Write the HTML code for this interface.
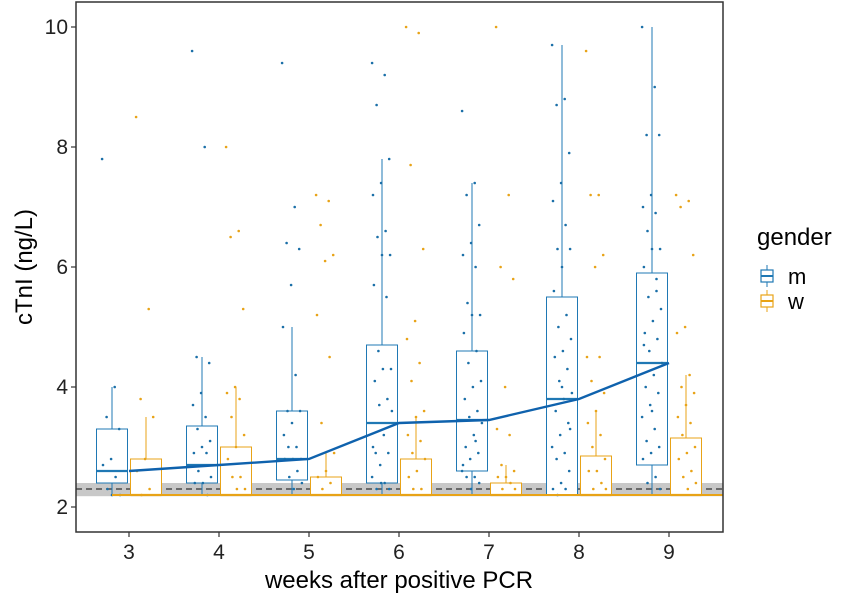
<!DOCTYPE html>
<html><head><meta charset="utf-8"><style>
body{margin:0;background:#fff;width:850px;height:602px;overflow:hidden;font-family:"Liberation Sans",sans-serif}
</style></head><body>
<svg id="chart" width="850" height="602"></svg>
<script>
const weeks=[3,4,5,6,7,8,9];
const mQ1=[2.4,2.4,2.45,2.4,2.6,2.2,2.7];
const mMed=[2.6,2.7,2.8,3.4,3.45,3.8,4.4];
const mQ3=[3.3,3.35,3.6,4.7,4.6,5.5,5.9];
const mLo=[2.2,2.2,2.2,2.2,2.2,2.2,2.2];
const mHi=[4.0,4.5,5.0,7.8,7.4,9.7,10.0];
const wQ1=[2.2,2.2,2.2,2.2,2.2,2.2,2.2];
const wMed=[2.2,2.2,2.2,2.2,2.2,2.2,2.2];
const wQ3=[2.8,3.0,2.5,2.8,2.4,2.85,3.15];
const wLo=[2.2,2.2,2.2,2.2,2.2,2.2,2.2];
const wHi=[3.5,4.0,2.9,3.5,2.7,3.6,4.2];
const mPts=[
[7.8,4.0,3.5,3.3,2.8,2.7,2.5,2.3,2.2,2.2],
[9.6,8.0,4.5,4.4,3.9,3.7,3.5,3.3,3.1,3.0,2.9,2.9,2.6,2.5,2.4,2.4,2.2],
[9.4,7.0,6.4,6.3,5.7,5.0,4.2,3.6,3.6,3.4,3.2,3.0,3.0,2.8,2.8,2.8,2.6,2.5,2.4,2.3],
[9.4,9.2,8.7,7.8,7.4,7.2,6.6,6.5,6.2,6.2,5.7,5.5,4.6,4.3,4.3,4.1,3.8,3.7,3.6,3.2,2.9,2.9,2.7,2.5,2.4,2.3,2.3,2.4,3.0],
[8.6,7.4,7.2,6.7,6.4,6.2,6.0,5.4,5.2,5.2,4.9,4.6,4.4,4.1,4.0,3.8,3.6,3.5,3.4,3.2,3.0,2.9,2.8,2.6,2.5,2.5,2.4,2.3,2.7,3.1],
[9.7,8.8,8.7,7.9,7.4,7.1,6.7,6.3,6.3,6.0,5.6,5.2,5.0,4.8,4.6,4.5,4.3,4.1,3.9,3.8,3.6,3.4,3.2,3.0,2.9,2.8,2.6,2.4,2.3,2.3,2.2,3.3,4.0],
[10,9.0,8.2,8.2,7.2,7.0,6.9,6.6,6.3,6.3,6.0,5.8,5.5,5.3,5.1,4.9,4.8,4.6,4.4,4.2,4.0,3.9,3.7,3.5,3.3,3.1,3.0,2.9,2.8,2.5,2.4,2.3,3.6,4.7,5.6]
];
const wPts=[
[8.5,5.3,3.8,3.5,2.8,2.6,2.3,2.2],
[8.0,6.6,6.5,5.3,4.0,3.9,3.8,3.5,3.2,3.0,2.8,2.5,2.5,2.3,2.3],
[7.2,7.1,6.7,6.2,6.1,5.2,4.5,3.4,2.9,2.6,2.5,2.4,2.3],
[10,9.9,7.7,6.3,5.1,4.8,4.4,4.1,3.6,3.5,3.2,3.1,2.9,2.8,2.6,2.5,2.3,2.3],
[10,7.2,6.0,5.8,4.0,3.3,3.2,2.7,2.6,2.5,2.5,2.4,2.3,2.3],
[9.6,7.2,7.2,6.2,6.0,4.5,4.5,4.1,3.9,3.6,3.4,3.2,3.0,2.8,2.6,2.6,2.4,2.3,2.3],
[7.2,7.1,7.0,6.2,5.0,4.9,4.2,4.0,3.9,3.7,3.5,3.4,3.2,3.0,2.9,2.8,2.6,2.5,2.4,2.3]
];
const yTicks=[2,4,6,8,10];
const refLine=2.3, refLo=2.18, refHi=2.4;

const NS="http://www.w3.org/2000/svg";
const svg=document.getElementById('chart');
const L=76,R=723,T=2,B=532;
const X=w=>129+(w-3)*90;
const Y=v=>507-(v-2)*60;
const BLUE="#1f78b4",ORANGE="#e8a317";
function mk(tag,at,parent){const e=document.createElementNS(NS,tag);for(const k in at)e.setAttribute(k,at[k]);(parent||svg).appendChild(e);return e;}
function tx(s,at){const e=mk('text',at);e.textContent=s;return e;}

let el=mk('rect',{x:L,y:T,width:R-L,height:B-T,fill:'#fff'});

el=mk('rect',{x:L,y:Y(refHi),width:R-L,height:Y(refLo)-Y(refHi),fill:'#c8c8c8'});

el=mk('line',{x1:L,x2:R,y1:Y(refLine),y2:Y(refLine),stroke:'#333','stroke-dasharray':'6,4','stroke-width':1.2});


function box(i,off,q1,med,q3,lo,hi,col,name){
  const g=mk('g',{});
  
  
  const cx=X(weeks[i])+off,hw=15.5;
  mk('line',{x1:cx,x2:cx,y1:Y(hi),y2:Y(q3),stroke:col,'stroke-width':1},g);
  mk('line',{x1:cx,x2:cx,y1:Y(q1),y2:Y(lo),stroke:col,'stroke-width':1},g);
  mk('rect',{x:cx-hw,y:Y(q3),width:2*hw,height:Math.max(0.5,Y(q1)-Y(q3)),fill:'#fff',stroke:col,'stroke-width':1},g);
  mk('line',{x1:cx-hw,x2:cx+hw,y1:Y(med),y2:Y(med),stroke:col,'stroke-width':2.2},g);
}
function pts(i,off,arr,col,name){
  const g=mk('g',{});
  
  
  arr.forEach((v,j)=>{const jit=((j*37)%23-11)*0.9;
    mk('circle',{cx:X(weeks[i])+off+jit,cy:Y(v),r:1.3,fill:col},g);});
}
weeks.forEach((w,i)=>{
  box(i,-17,mQ1[i],mMed[i],mQ3[i],mLo[i],mHi[i],BLUE,'box-m-week'+w);
  box(i,17,wQ1[i],wMed[i],wQ3[i],wLo[i],wHi[i],ORANGE,'box-w-week'+w);
});
weeks.forEach((w,i)=>{
  pts(i,-17,mPts[i],'#1a6fa8','points-m-week'+w);
  pts(i,17,wPts[i],ORANGE,'points-w-week'+w);
});
el=mk('polyline',{points:weeks.map((w,i)=>X(w)+','+Y(mMed[i])).join(' '),fill:'none',stroke:'#0f62ad','stroke-width':2.4});

el=mk('line',{x1:X(3)-17,x2:R,y1:Y(2.2),y2:Y(2.2),stroke:ORANGE,'stroke-width':2});

el=mk('rect',{x:L,y:T,width:R-L,height:B-T,fill:'none',stroke:'#333','stroke-width':1.5});


yTicks.forEach(v=>{
  let t=mk('line',{x1:L-5,x2:L,y1:Y(v),y2:Y(v),stroke:'#333','stroke-width':1.2});
  
  t=tx(v,{x:L-8,y:Y(v)+7,'text-anchor':'end','font-size':21,fill:'#222'});
  
});
weeks.forEach(w=>{
  let t=mk('line',{x1:X(w),x2:X(w),y1:B,y2:B+5,stroke:'#333','stroke-width':1.2});
  
  t=tx(w,{x:X(w),y:B+27,'text-anchor':'middle','font-size':21,fill:'#222'});
  
});
el=tx('weeks after positive PCR',{x:399,y:588,'text-anchor':'middle','font-size':24,fill:'#000'});

el=tx('cTnI (ng/L)',{x:0,y:0,transform:'translate(32,267) rotate(-90)','text-anchor':'middle','font-size':24,fill:'#000'});

el=tx('gender',{x:757,y:245,'font-size':24,fill:'#000'});

[['m',BLUE,276],['w',ORANGE,301]].forEach(([lab,col,cy])=>{
  const g=mk('g',{});
  
  
  mk('line',{x1:767,x2:767,y1:cy-11,y2:cy+11,stroke:col,'stroke-width':1},g);
  mk('rect',{x:761,y:cy-6,width:12,height:12,fill:'#fff',stroke:col,'stroke-width':1.2},g);
  mk('line',{x1:761,x2:773,y1:cy,y2:cy,stroke:col,'stroke-width':2},g);
  const t=document.createElementNS(NS,'text');t.setAttribute('x',788);t.setAttribute('y',cy+8);t.setAttribute('font-size',22);t.textContent=lab;g.appendChild(t);
});
</script>
</body></html>
